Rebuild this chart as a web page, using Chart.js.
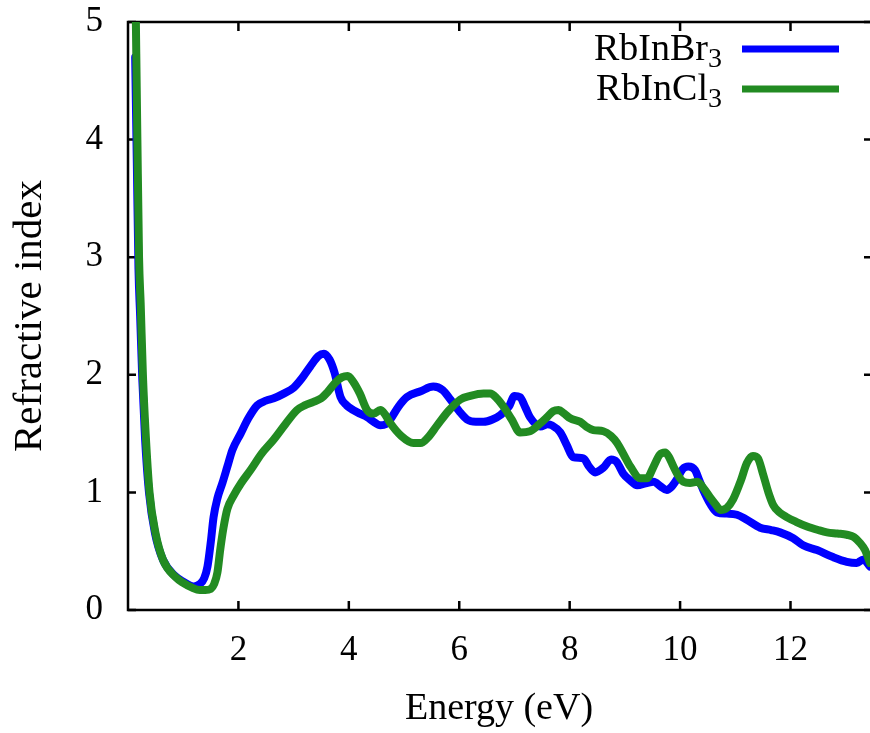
<!DOCTYPE html>
<html>
<head>
<meta charset="utf-8">
<script src="https://cdn.jsdelivr.net/npm/chart.js@4"></script>
<style>
  html, body { margin: 0; padding: 0; background: #fff; }
</style>
</head>
<body>
<canvas id="chart" width="870" height="733"></canvas>
<script>
// RbInBr3 refractive index
const energyBr = [0.13, 0.16, 0.19, 0.22, 0.26, 0.31, 0.38, 0.49, 0.63, 0.85,
  1.0, 1.19, 1.3, 1.38, 1.44, 1.5, 1.55, 1.62, 1.71, 1.8,
  1.89, 2.04, 2.18, 2.34, 2.5, 2.64, 2.82, 3.0, 3.15,
  3.3, 3.45, 3.55, 3.65, 3.74, 3.85, 3.96, 4.08, 4.2, 4.33,
  4.45, 4.57, 4.67, 4.75, 4.9, 5.05, 5.3, 5.53, 5.7, 5.84,
  6.0, 6.14, 6.3, 6.44, 6.6, 6.75, 6.9, 7.0, 7.1, 7.2,
  7.28, 7.47, 7.6, 7.68, 7.83, 7.95, 8.06, 8.25, 8.35, 8.46,
  8.61, 8.75, 8.85, 8.97, 9.1, 9.22, 9.4, 9.52, 9.65, 9.76,
  9.85, 9.94, 10.05, 10.15, 10.27, 10.35, 10.42, 10.55, 10.67, 10.85,
  11.03, 11.2, 11.45, 11.65, 11.81, 12.05, 12.23, 12.48, 12.77, 13.02,
  13.2, 13.32, 13.44];
const indexBr = [4.7, 3.8, 2.9, 2.5, 1.95, 1.45, 1.0, 0.65, 0.43, 0.29,
  0.24, 0.2, 0.22, 0.27, 0.37, 0.58, 0.79, 0.95, 1.08, 1.22,
  1.36, 1.5, 1.63, 1.74, 1.78, 1.8, 1.84, 1.89, 1.97,
  2.07, 2.16, 2.18, 2.13, 2.02, 1.81, 1.74, 1.70, 1.67, 1.64,
  1.6, 1.57, 1.58, 1.62, 1.73, 1.81, 1.86, 1.90, 1.87, 1.79,
  1.69, 1.62, 1.6, 1.6, 1.62, 1.66, 1.73, 1.82, 1.81, 1.72,
  1.64, 1.56, 1.58, 1.57, 1.51, 1.4, 1.30, 1.29, 1.22, 1.17,
  1.21, 1.28, 1.26, 1.16, 1.1, 1.06, 1.08, 1.09, 1.05, 1.02,
  1.05, 1.11, 1.2, 1.22, 1.19, 1.1, 1.02, 0.9, 0.83, 0.82,
  0.81, 0.77, 0.70, 0.68, 0.66, 0.61, 0.55, 0.51, 0.45, 0.41,
  0.40, 0.43, 0.37];

// RbInCl3 refractive index
const energyCl = [0.14, 0.17, 0.2, 0.23, 0.27, 0.32, 0.39, 0.5, 0.64, 0.86,
  1.0, 1.16, 1.3, 1.4, 1.5, 1.56, 1.62, 1.67, 1.73, 1.8,
  1.91, 2.05, 2.22, 2.42, 2.64, 2.85, 3.06, 3.2, 3.36,
  3.5, 3.61, 3.75, 3.88, 3.98, 4.08, 4.2, 4.33, 4.45, 4.57,
  4.66, 4.75, 4.95, 5.17, 5.3, 5.42, 5.6, 5.8, 6.02, 6.2,
  6.44, 6.56, 6.68, 6.8, 6.95, 7.1, 7.28, 7.45, 7.59, 7.7,
  7.8, 7.9, 8.01, 8.19, 8.3, 8.43, 8.61, 8.75, 8.86, 8.98,
  9.1, 9.28, 9.4, 9.52, 9.63, 9.73, 9.8, 9.88, 9.97, 10.06,
  10.18, 10.31, 10.45, 10.54, 10.64, 10.73, 10.85, 10.96, 11.1, 11.21,
  11.32, 11.41, 11.5, 11.6, 11.69, 11.8, 11.93, 12.1, 12.3, 12.5,
  12.66, 12.85, 13.02, 13.15, 13.26, 13.35, 13.44];
const indexCl = [5.1, 4.0, 3.0, 2.6, 2.0, 1.5, 1.0, 0.65, 0.42, 0.28,
  0.23, 0.19, 0.17, 0.17, 0.18, 0.22, 0.32, 0.51, 0.7, 0.86,
  0.97, 1.08, 1.19, 1.33, 1.45, 1.58, 1.70, 1.74, 1.77,
  1.8, 1.85, 1.93, 1.98, 1.99, 1.94, 1.84, 1.70, 1.67, 1.70,
  1.66, 1.59, 1.48, 1.42, 1.42, 1.46, 1.57, 1.69, 1.79, 1.82,
  1.84, 1.84, 1.80, 1.73, 1.62, 1.51, 1.52, 1.58, 1.64, 1.69,
  1.70, 1.67, 1.63, 1.60, 1.56, 1.53, 1.52, 1.48, 1.42, 1.32,
  1.22, 1.12, 1.12, 1.22, 1.32, 1.34, 1.3, 1.22, 1.14, 1.09,
  1.08, 1.09, 1.02, 0.96, 0.9, 0.85, 0.87, 0.94, 1.1, 1.25,
  1.31, 1.29, 1.16, 1.0, 0.89, 0.83, 0.79, 0.75, 0.71, 0.68,
  0.66, 0.65, 0.64, 0.62, 0.57, 0.51, 0.40];

const xTicks = [2, 4, 6, 8, 10, 12];
const yTicks = [0, 1, 2, 3, 4, 5];
const seriesNames = ['RbInBr', 'RbInCl'];
const seriesSub = ['3', '3'];
const seriesColors = ['#0000ff', '#228b22'];

const serif = "'Liberation Serif', 'Times New Roman', serif";

function toPoints(xs, ys) {
  return xs.map((x, i) => ({ x: x, y: ys[i] }));
}

// gnuplot style box with inward ticks
const framePlugin = {
  id: 'frame',
  beforeDatasetsDraw(chart) {
    const { ctx, chartArea: a, scales } = chart;
    const right = chart.width + 4;
    ctx.save();
    ctx.strokeStyle = '#000';
    ctx.lineWidth = 2.5;
    ctx.beginPath();
    ctx.moveTo(right, a.top);
    ctx.lineTo(a.left, a.top);
    ctx.lineTo(a.left, a.bottom);
    ctx.lineTo(right, a.bottom);
    ctx.stroke();
    ctx.beginPath();
    xTicks.forEach(v => {
      const px = scales.x.getPixelForValue(v);
      ctx.moveTo(px, a.bottom);
      ctx.lineTo(px, a.bottom - 9);
      ctx.moveTo(px, a.top);
      ctx.lineTo(px, a.top + 9);
    });
    yTicks.forEach(v => {
      const py = scales.y.getPixelForValue(v);
      ctx.moveTo(a.left, py);
      ctx.lineTo(a.left + 8, py);
      ctx.moveTo(right, py);
      ctx.lineTo(right - 10, py);
    });
    ctx.stroke();
    ctx.restore();
  }
};

// legend with subscripts, top right
const legendPlugin = {
  id: 'subLegend',
  afterDraw(chart) {
    const ctx = chart.ctx;
    const textRight = 722;
    const rows = [60, 100];
    ctx.save();
    seriesNames.forEach((name, i) => {
      const base = rows[i];
      ctx.font = '28px ' + serif;
      const subW = ctx.measureText(seriesSub[i]).width;
      ctx.fillStyle = '#000';
      ctx.textBaseline = 'alphabetic';
      ctx.textAlign = 'left';
      ctx.fillText(seriesSub[i], textRight - subW, base + 7);
      ctx.font = '38px ' + serif;
      ctx.textAlign = 'right';
      ctx.fillText(name, textRight - subW, base);
      ctx.strokeStyle = seriesColors[i];
      ctx.lineWidth = 7;
      ctx.beginPath();
      ctx.moveTo(742, base - 11);
      ctx.lineTo(839, base - 11);
      ctx.stroke();
    });
    ctx.restore();
  }
};

new Chart(document.getElementById('chart'), {
  type: 'line',
  data: {
    datasets: [{
      label: seriesNames[0] + seriesSub[0],
      data: toPoints(energyBr, indexBr),
      borderColor: seriesColors[0],
      borderWidth: 8,
      pointRadius: 0,
      fill: false,
      cubicInterpolationMode: 'monotone',
      borderCapStyle: 'round',
      borderJoinStyle: 'round',
      order: 1
    }, {
      label: seriesNames[1] + seriesSub[1],
      data: toPoints(energyCl, indexCl),
      borderColor: seriesColors[1],
      borderWidth: 8,
      pointRadius: 0,
      fill: false,
      cubicInterpolationMode: 'monotone',
      borderCapStyle: 'round',
      borderJoinStyle: 'round',
      order: 0
    }]
  },
  options: {
    responsive: false,
    animation: false,
    layout: { padding: { top: 22, right: 0, left: 0, bottom: 0 } },
    plugins: {
      legend: { display: false },
      tooltip: { enabled: false }
    },
    scales: {
      x: {
        type: 'linear',
        min: 0,
        max: 13.44,
        afterBuildTicks: s => { s.ticks = xTicks.map(v => ({ value: v })); },
        afterFit: s => { s.height = 123; s.paddingLeft = 0; s.paddingRight = 0; },
        grid: { display: false, drawTicks: false },
        border: { display: false },
        ticks: { color: '#000', font: { family: serif, size: 35 }, padding: 20, maxRotation: 0 },
        title: {
          display: true,
          text: 'Energy (eV)',
          color: '#000',
          font: { family: serif, size: 38 },
          padding: { top: 0, bottom: 1 }
        }
      },
      y: {
        min: 0,
        max: 5,
        afterBuildTicks: s => { s.ticks = yTicks.map(v => ({ value: v })); },
        afterFit: s => { s.width = 128; s.paddingTop = 0; s.paddingBottom = 0; },
        grid: { display: false, drawTicks: false },
        border: { display: false },
        ticks: { color: '#000', font: { family: serif, size: 35 }, padding: 25 },
        title: {
          display: true,
          text: 'Refractive index',
          color: '#000',
          font: { family: serif, size: 41 },
          padding: { top: 6, bottom: 0 }
        }
      }
    }
  },
  plugins: [framePlugin, legendPlugin]
});
</script>
</body>
</html>
